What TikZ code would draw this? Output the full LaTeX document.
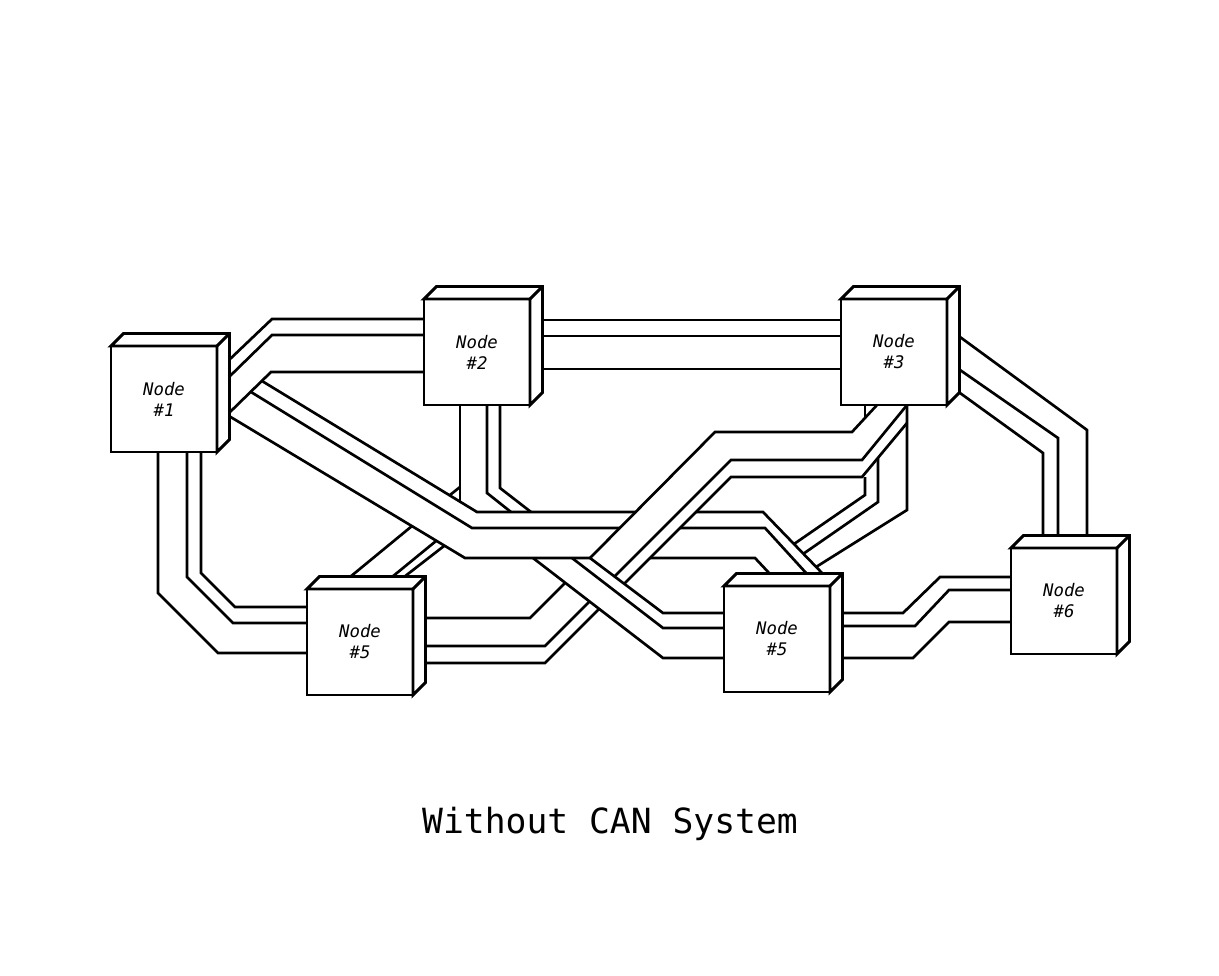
\documentclass[tikz,border=0pt]{standalone}
\usepackage{fontspec}
\newfontfamily\labelfont{DejaVu Sans Mono}[ItalicFont={DejaVu Sans Mono Oblique}]
\newfontfamily\titlefont{DejaVu Sans Mono}
\newcommand\cubefaces[1]{%
  \filldraw[face] (#1.north west) -- ++(12.5,-12.5) -- ++(106,0) -- ++(0,106) -- (#1.south east) -- (#1.north east) -- cycle;
  \draw[face] (#1.north east) -- ++(12.5,-12.5);
}
\begin{document}
\begin{tikzpicture}[x=0.75pt,y=-0.75pt,
  wire/.style={line width=2pt, line join=miter},
  face/.style={draw=black, fill=white, line width=2.2pt, line join=miter},
  unit/.style={rectangle, draw=black, fill=white, line width=2.2pt, outer sep=0pt,
    minimum width=79.5pt, minimum height=79.5pt, inner sep=0pt, align=center,
    font=\labelfont\itshape\fontsize{13}{15.75}\selectfont},
  caption/.style={font=\titlefont\fontsize{26}{30}\selectfont}
]
\fill[white] (0,0) rectangle (1219,975);
\useasboundingbox (0,0) rectangle (1219,975);

% N1 -- N2
\draw[wire] (229,360) -- (272,319) -- (424,319);
\draw[wire] (229,377) -- (272,335) -- (424,335);
\draw[wire] (229,413) -- (271,372) -- (424,372);
% N2 -- N3
\draw[wire] (542,320) -- (841,320);
\draw[wire] (542,336) -- (841,336);
\draw[wire] (542,369) -- (841,369);
% N3 -- N6
\draw[wire] (960,337) -- (1087,430) -- (1087,536);
\draw[wire] (960,370) -- (1058,438) -- (1058,536);
\draw[wire] (960,393) -- (1043,453) -- (1043,536);
% N1 -- N5 (left)
\draw[wire] (158,452) -- (158,593) -- (218,653) -- (307,653);
\draw[wire] (187,452) -- (187,577) -- (233,623) -- (307,623);
\draw[wire] (201,452) -- (201,573) -- (235,607) -- (307,607);
% N5 (right) -- N6
\draw[wire] (843,613) -- (903,613) -- (940,577) -- (1011,577);
\draw[wire] (843,626) -- (915,626) -- (949,590) -- (1011,590);
\draw[wire] (843,658) -- (913,658) -- (949,622) -- (1011,622);
% N1 -- N5 (right), under C
\draw[wire] (262,381) -- (477,512) -- (636,512);
\draw[wire] (696,512) -- (763,512) -- (823,574);
\draw[wire] (251,392) -- (472,528) -- (620,528);
\draw[wire] (680,528) -- (765,528) -- (807,574);
\draw[wire] (229,416) -- (465,558) -- (590,558);
\draw[wire] (650,558) -- (755,558) -- (770,574);
% N3 -- N5 (left), under G
\draw[wire] (877,405) -- (852,432) -- (715,432) -- (590,558);
\draw[wire] (565,583) -- (530,618) -- (426,618);
\draw[wire] (907,405) -- (862,460) -- (731,460) -- (615,576);
\draw[wire] (590,601) -- (545,646) -- (426,646);
\draw[wire] (907,423) -- (862,477) -- (731,477) -- (624,584);
\draw[wire] (599,609) -- (545,663) -- (426,663);
% N2 -- N5 (right), under B
\draw[wire] (460,405) -- (460,501);
\draw[wire] (487,405) -- (487,493) -- (511,512);
\draw[wire] (500,405) -- (500,488) -- (531,512);
\draw[wire] (533,558) -- (663,658) -- (724,658);
\draw[wire] (572,558) -- (663,628) -- (724,628);
\draw[wire] (590,558) -- (663,613) -- (724,613);
% N3 -- N5 (right), under C and B
\draw[wire] (865,405) -- (865,417);
\draw[wire] (865,477) -- (865,495) -- (794,544);
\draw[wire] (878,458) -- (878,502) -- (803,554);
\draw[wire] (907,405) -- (907,510) -- (816,567);
% N5 (left) top, under B and G
\draw[wire] (350,577) -- (412,526);
\draw[wire] (450,495) -- (460,487);
\draw[wire] (392,577) -- (436,541);
\draw[wire] (404,577) -- (444,546);

% units
\node[unit] (n1) at (164,399) {Node\\\#1};
\node[unit] (n2) at (477,352) {Node\\\#2};
\node[unit] (n3) at (894,352) {Node\\\#3};
\node[unit] (n4) at (360,642) {Node\\\#5};
\node[unit] (n5) at (777,639) {Node\\\#5};
\node[unit] (n6) at (1064,601) {Node\\\#6};
\cubefaces{n1}
\cubefaces{n2}
\cubefaces{n3}
\cubefaces{n4}
\cubefaces{n5}
\cubefaces{n6}

\node[caption] (title) at (610,824) {Without CAN System};
\end{tikzpicture}
\end{document}
